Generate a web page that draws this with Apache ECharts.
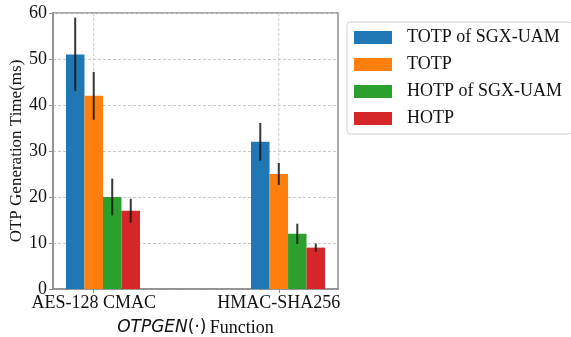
<!DOCTYPE html>
<html>
<head>
<meta charset="utf-8">
<script src="https://cdn.jsdelivr.net/npm/echarts@6/dist/echarts.min.js"></script>
<style>
  html, body { margin: 0; padding: 0; background: #fff; }
  #chart { width: 571px; height: 337px; }
</style>
</head>
<body>
<div id="chart"></div>
<script>
// Categories on the x axis
const categories = ['AES-128 CMAC', 'HMAC-SHA256'];

// Series names (legend order)
const seriesNames = ['TOTP of SGX-UAM', 'TOTP', 'HOTP of SGX-UAM', 'HOTP'];

// Mean OTP generation time (ms) per category
const totpSgx = [51, 32];
const totp = [42, 25];
const hotpSgx = [20, 12];
const hotp = [17, 9];

// Error (± ms) per category
const totpSgxErr = [8, 4.1];
const totpErr = [5.2, 2.4];
const hotpSgxErr = [4, 2.2];
const hotpErr = [2.6, 0.9];

// Y axis tick values
const yTicks = [0, 10, 20, 30, 40, 50, 60];

const colors = ['#1f77b4', '#ff7f0e', '#2ca02c', '#d62728'];
const values = [totpSgx, totp, hotpSgx, hotp];
const errors = [totpSgxErr, totpErr, hotpSgxErr, hotpErr];

// Bars of one group sit side by side; the category tick lands on the second bar
const barWidth = 0.1;
const offsets = [-0.1, 0, 0.1, 0.2];

const serif = '"Liberation Serif", "Times New Roman", serif';

function makeSeries(i) {
  return {
    name: seriesNames[i],
    type: 'custom',
    itemStyle: { color: colors[i] },
    z: 3,
    data: categories.map((c, k) => [k, values[i][k], errors[i][k]]),
    renderItem: function (params, api) {
      const x = api.value(0) + offsets[i];
      const y = api.value(1);
      const e = api.value(2);
      const tl = api.coord([x - barWidth / 2, y]);
      const br = api.coord([x + barWidth / 2, 0]);
      const eTop = api.coord([x, y + e]);
      const eBot = api.coord([x, y - e]);
      return {
        type: 'group',
        children: [
          {
            type: 'rect',
            shape: { x: tl[0], y: tl[1], width: br[0] - tl[0], height: br[1] - tl[1] },
            style: { fill: api.visual('color') }
          },
          {
            type: 'line',
            z2: 10,
            shape: { x1: eTop[0], y1: eTop[1], x2: eBot[0], y2: eBot[1] },
            style: { stroke: 'rgba(20,20,20,0.85)', lineWidth: 2 }
          }
        ]
      };
    }
  };
}

const series = seriesNames.map((n, i) => makeSeries(i));

// Vertical grid lines at the category ticks
series.push({
  type: 'custom',
  silent: true,
  z: 1,
  data: categories.map((c, k) => [k]),
  renderItem: function (params, api) {
    const top = api.coord([api.value(0), yTicks[yTicks.length - 1]]);
    const bot = api.coord([api.value(0), yTicks[0]]);
    return {
      type: 'line',
      shape: { x1: top[0], y1: top[1], x2: bot[0], y2: bot[1] },
      style: { stroke: '#c8c8c8', lineWidth: 1, lineDash: [3, 2] }
    };
  }
});

const chart = echarts.init(document.getElementById('chart'), null, { renderer: 'canvas' });
chart.setOption({
  animation: false,
  backgroundColor: '#fff',
  grid: {
    left: 53, right: 233, top: 13, bottom: 48,
    show: true, borderColor: '#8c8c8c', borderWidth: 1.5,
    containLabel: false,
    outerBoundsMode: 'none'
  },
  legend: {
    orient: 'vertical',
    left: 347,
    top: 22,
    padding: [6, 10, 6, 7],
    itemGap: 8,
    itemWidth: 38,
    itemHeight: 13,
    icon: 'rect',
    borderColor: '#d0d0d0',
    borderWidth: 1,
    borderRadius: 3,
    data: seriesNames,
    textStyle: { fontFamily: serif, fontSize: 18, color: '#111', padding: [0, 0, 0, 10], lineHeight: 19 }
  },
  xAxis: {
    type: 'value',
    min: -0.22,
    max: 1.32,
    splitLine: { show: false },
    axisLine: { show: true, onZero: false, lineStyle: { color: '#8c8c8c', width: 1.5 } },
    axisTick: { show: true, customValues: [0, 1], length: 4, lineStyle: { color: '#8c8c8c' } },
    axisLabel: {
      customValues: [0, 1],
      formatter: v => categories[Math.round(v)],
      fontFamily: serif, fontSize: 18, color: '#111', margin: 5
    },
    name: '{it|OTPGEN}{sa|(·)} {rm|Function}',
    nameLocation: 'middle',
    nameGap: 30,
    nameTextStyle: {
      rich: {
        it: { fontFamily: '"DejaVu Sans"', fontStyle: 'italic', fontSize: 17, color: '#111' },
        sa: { fontFamily: '"DejaVu Sans"', fontSize: 17, color: '#111' },
        rm: { fontFamily: serif, fontSize: 18, color: '#111' }
      }
    }
  },
  yAxis: {
    type: 'value',
    min: 0,
    max: 60,
    interval: 10,
    axisLine: { show: true, onZero: false, lineStyle: { color: '#8c8c8c', width: 1.5 } },
    axisTick: { show: true, length: 4, lineStyle: { color: '#8c8c8c' } },
    axisLabel: { fontFamily: serif, fontSize: 18, color: '#111', margin: 6 },
    splitLine: { show: true, lineStyle: { color: '#c8c8c8', type: [3, 2], width: 1 } },
    name: 'OTP Generation Time(ms)',
    nameLocation: 'middle',
    nameGap: 27,
    nameTextStyle: { fontFamily: serif, fontSize: 17, color: '#111' }
  },
  series: series
});
</script>
</body>
</html>
